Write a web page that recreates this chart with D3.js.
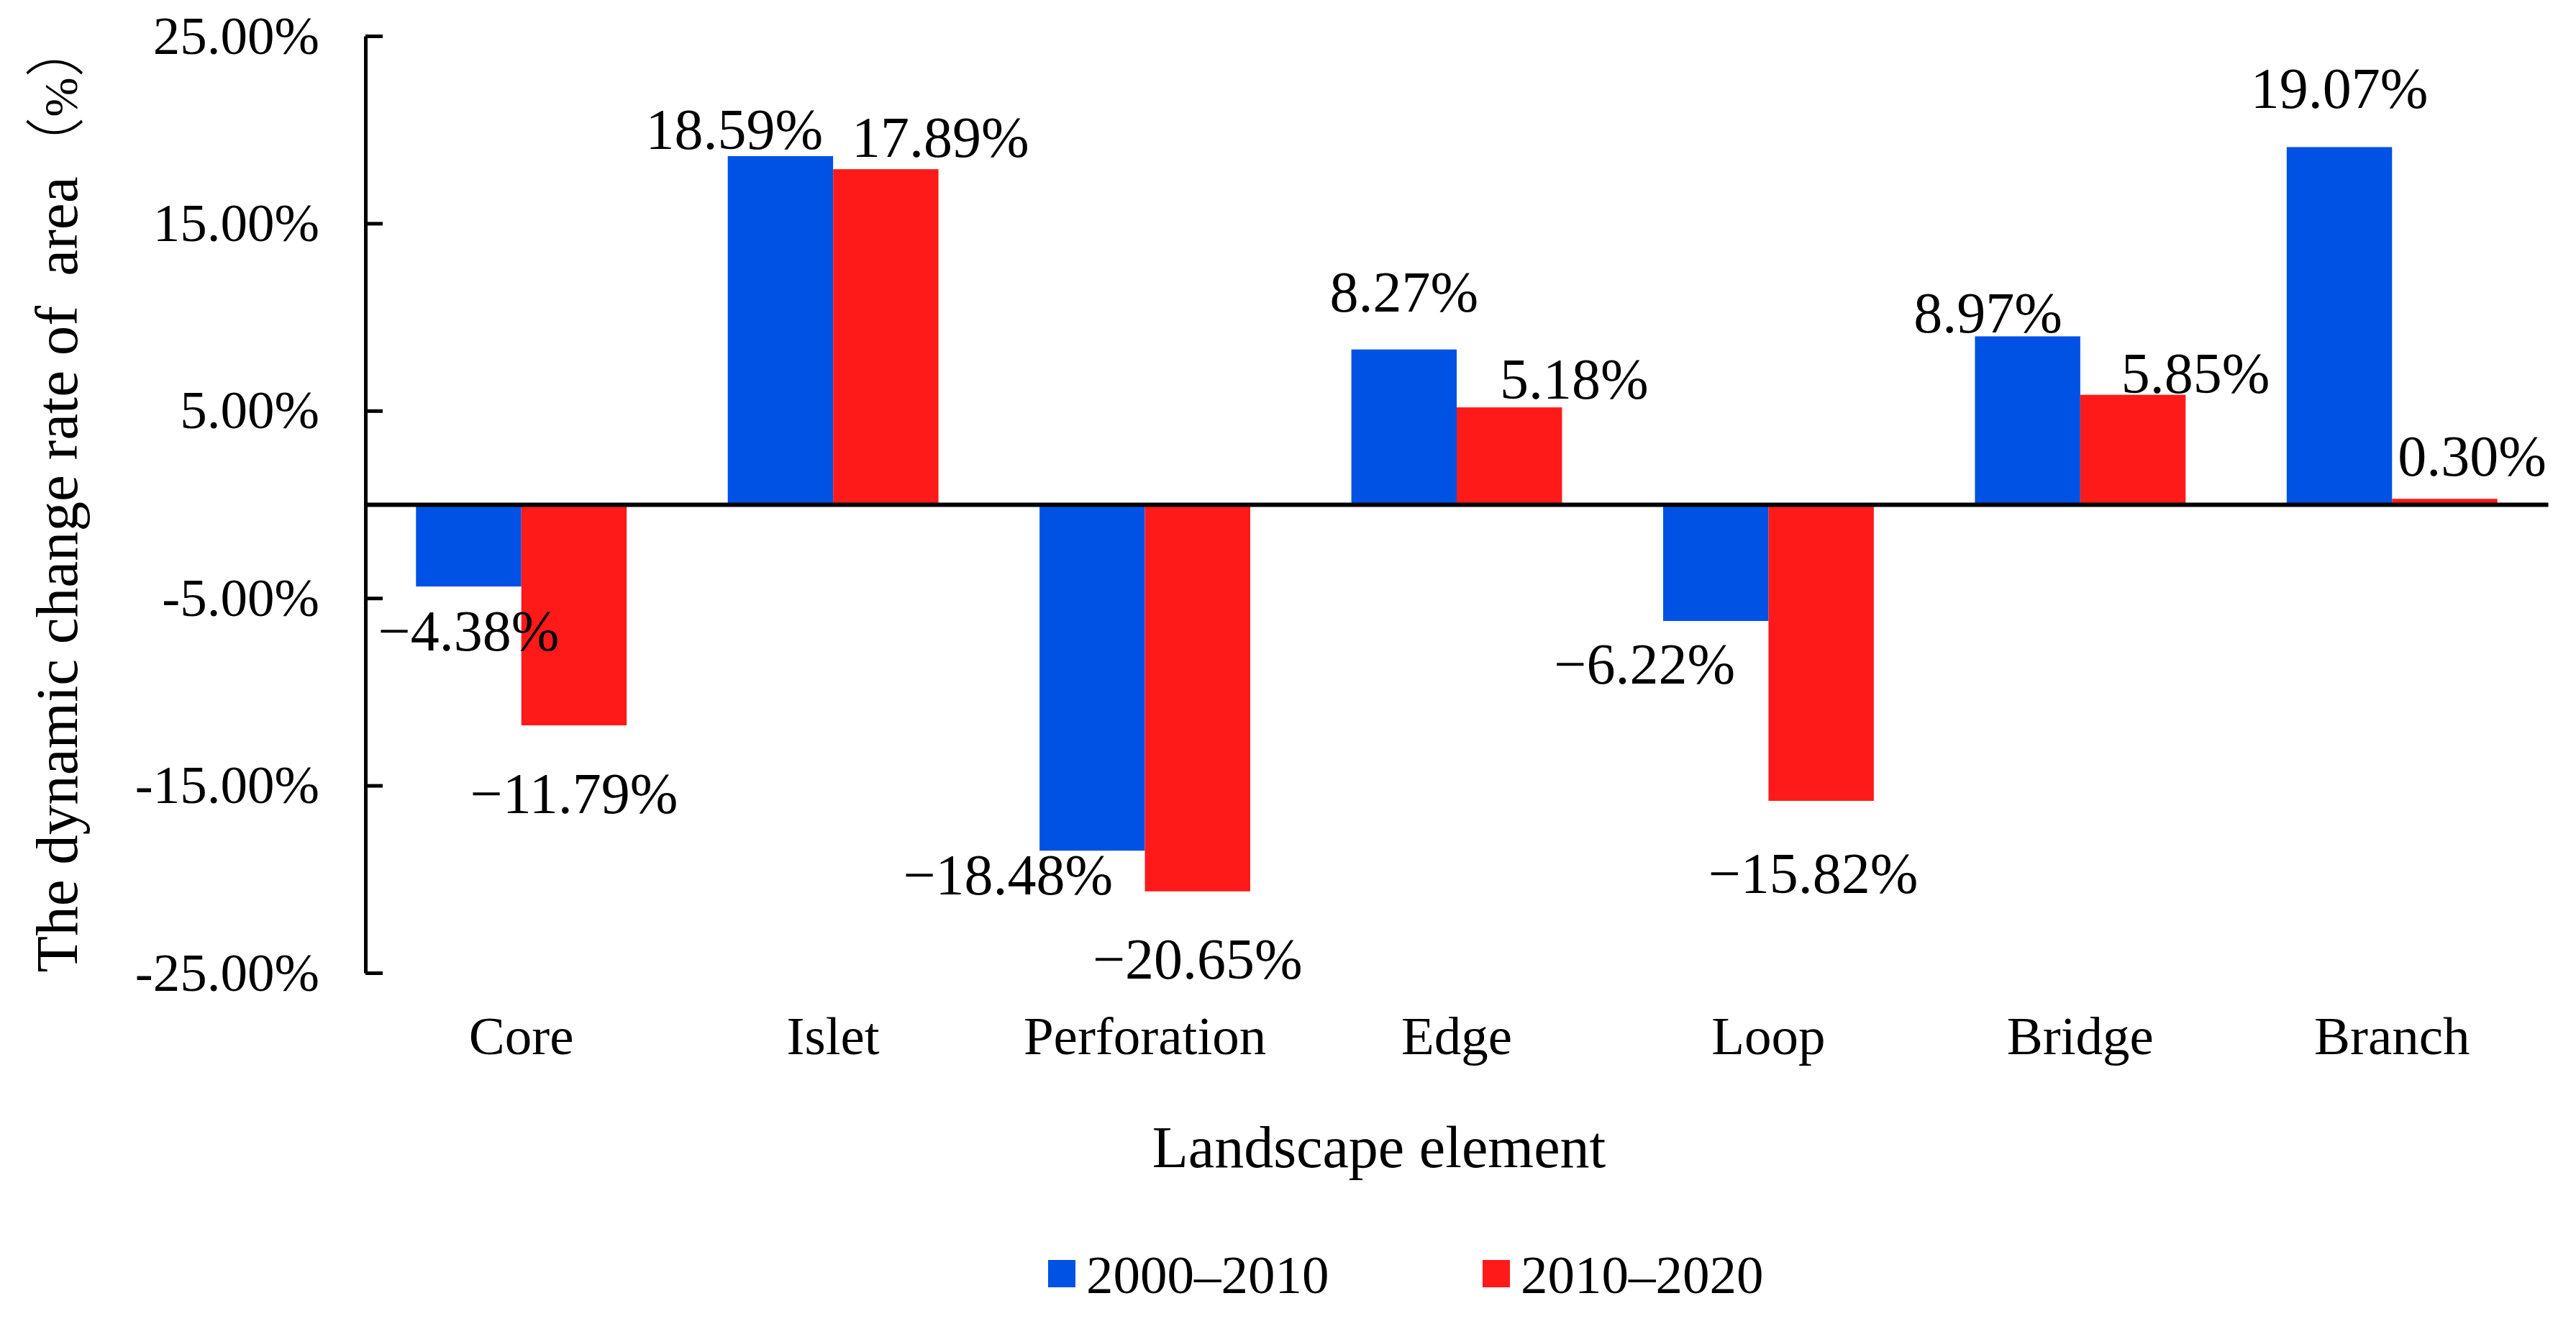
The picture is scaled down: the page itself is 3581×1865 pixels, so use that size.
<!DOCTYPE html>
<meta charset="utf-8">
<script src="https://d3js.org/d3.v7.min.js"></script>
<style>
  body { margin: 0; background: #fff; }
  text { font-family: "Liberation Serif", "Times New Roman", "Noto Sans CJK SC", serif; fill: #000; }
</style>
<div id="chart"></div>
<script>
  // data
  var categories = ["Core", "Islet", "Perforation", "Edge", "Loop", "Bridge", "Branch"];
  var seriesNames = ["2000\u20132010", "2010\u20132020"];
  var rate2000_2010 = [-4.38, 18.59, -18.48, 8.27, -6.22, 8.97, 19.07];
  var rate2010_2020 = [-11.79, 17.89, -20.65, 5.18, -15.82, 5.85, 0.30];
  var yTicks = [25, 15, 5, -5, -15, -25];
  var yTickLabels = ["25.00%", "15.00%", "5.00%", "-5.00%", "-15.00%", "-25.00%"];
  var colors = ["#0052e5", "#ff1a1a"];

  // hand placed data labels (dx, dy from bar end), as in the original
  var labelNudge = [
    [[0, 89], [-64, -10], [-117, 61], [0, -53], [-99, 87], [-55, -5], [0, -54]],
    [[0, 122], [76, -17], [0, 121], [90, -12], [-11, 128], [87, -3], [38, -32]]
  ];

  var W = 3581, H = 1865;
  var svg = d3.select("#chart").append("svg")
    .attr("width", W).attr("height", H);
  svg.append("rect").attr("width", W).attr("height", H).attr("fill", "#fff");

  var x = d3.scaleBand().domain(categories).range([508, 3542]);
  var xs = d3.scaleBand().domain([0, 1]).range([0, x.bandwidth()]).paddingOuter(0.48);
  var y = d3.scaleLinear().domain([-25, 25]).range([1352, 50]);

  var rows = [rate2000_2010, rate2010_2020];
  var bars = [];
  rows.forEach(function (vals, s) {
    vals.forEach(function (v, i) {
      bars.push({ s: s, cat: categories[i], i: i, v: v });
    });
  });

  // bars
  svg.selectAll("rect.bar")
    .data(bars)
    .enter()
    .append("rect")
    .attr("class", "bar")
    .attr("x", function (d) { return x(d.cat) + xs(d.s); })
    .attr("width", xs.bandwidth())
    .attr("y", function (d) { return y(Math.max(0, d.v)); })
    .attr("height", function (d) { return Math.abs(y(d.v) - y(0)); })
    .attr("fill", function (d) { return colors[d.s]; });

  // zero line
  var xAxis = svg.append("g")
    .attr("transform", "translate(0," + y(0) + ")")
    .call(d3.axisBottom(x).tickSize(0).tickFormat(""));
  xAxis.select(".domain").attr("stroke", "#000").attr("stroke-width", 6);

  // y axis, ticks pointing inward
  var yAxis = svg.append("g")
    .attr("transform", "translate(508,0)")
    .call(d3.axisLeft(y)
      .tickValues(yTicks)
      .tickFormat(function (d, i) { return yTickLabels[i]; })
      .tickSizeInner(-24)
      .tickSizeOuter(0)
      .tickPadding(64));
  yAxis.select(".domain").attr("stroke", "#000").attr("stroke-width", 5);
  yAxis.selectAll(".tick line").attr("stroke", "#000").attr("stroke-width", 5);
  yAxis.selectAll(".tick text")
    .attr("font-family", "'Liberation Serif', 'Times New Roman', serif")
    .attr("font-size", 75)
    .attr("fill", "#000");

  // data labels
  svg.selectAll("text.val")
    .data(bars)
    .enter()
    .append("text")
    .attr("class", "val")
    .attr("text-anchor", "middle")
    .attr("font-size", 80)
    .attr("x", function (d) { return x(d.cat) + xs(d.s) + xs.bandwidth() / 2 + labelNudge[d.s][d.i][0]; })
    .attr("y", function (d) { return y(d.v) + labelNudge[d.s][d.i][1]; })
    .text(function (d) { return (d.v < 0 ? "\u2212" : "") + Math.abs(d.v).toFixed(2) + "%"; });

  // category labels
  svg.selectAll("text.cat")
    .data(categories)
    .enter()
    .append("text")
    .attr("class", "cat")
    .attr("text-anchor", "middle")
    .attr("font-size", 75)
    .attr("x", function (d) { return x(d) + x.bandwidth() / 2; })
    .attr("y", 1465)
    .text(function (d) { return d; });

  // axis titles
  svg.append("text")
    .attr("text-anchor", "middle")
    .attr("font-size", 82)
    .attr("x", 1917)
    .attr("y", 1622)
    .text("Landscape element");

  var yTitle = svg.append("text")
    .attr("text-anchor", "middle")
    .attr("font-size", 83)
    .style("white-space", "pre")
    .attr("transform", "translate(107,688) rotate(-90)");
  yTitle.append("tspan").text("The dynamic change rate of  area");
  yTitle.append("tspan").style("font-family", "'Noto Sans CJK SC'").attr("font-weight", 300).text("\uFF08");
  yTitle.append("tspan").attr("font-size", 66).text("%");
  yTitle.append("tspan").style("font-family", "'Noto Sans CJK SC'").attr("font-weight", 300).text("\uFF09");

  // legend
  var legendX = [1457, 2061];
  var legend = svg.selectAll("g.leg")
    .data(seriesNames)
    .enter()
    .append("g")
    .attr("class", "leg")
    .attr("transform", function (d, i) { return "translate(" + legendX[i] + ",1751)"; });
  legend.append("rect")
    .attr("width", 38).attr("height", 38)
    .attr("fill", function (d, i) { return colors[i]; });
  legend.append("text")
    .attr("x", 53)
    .attr("y", 46)
    .attr("font-size", 75)
    .text(function (d) { return d; });
</script>
</html>
